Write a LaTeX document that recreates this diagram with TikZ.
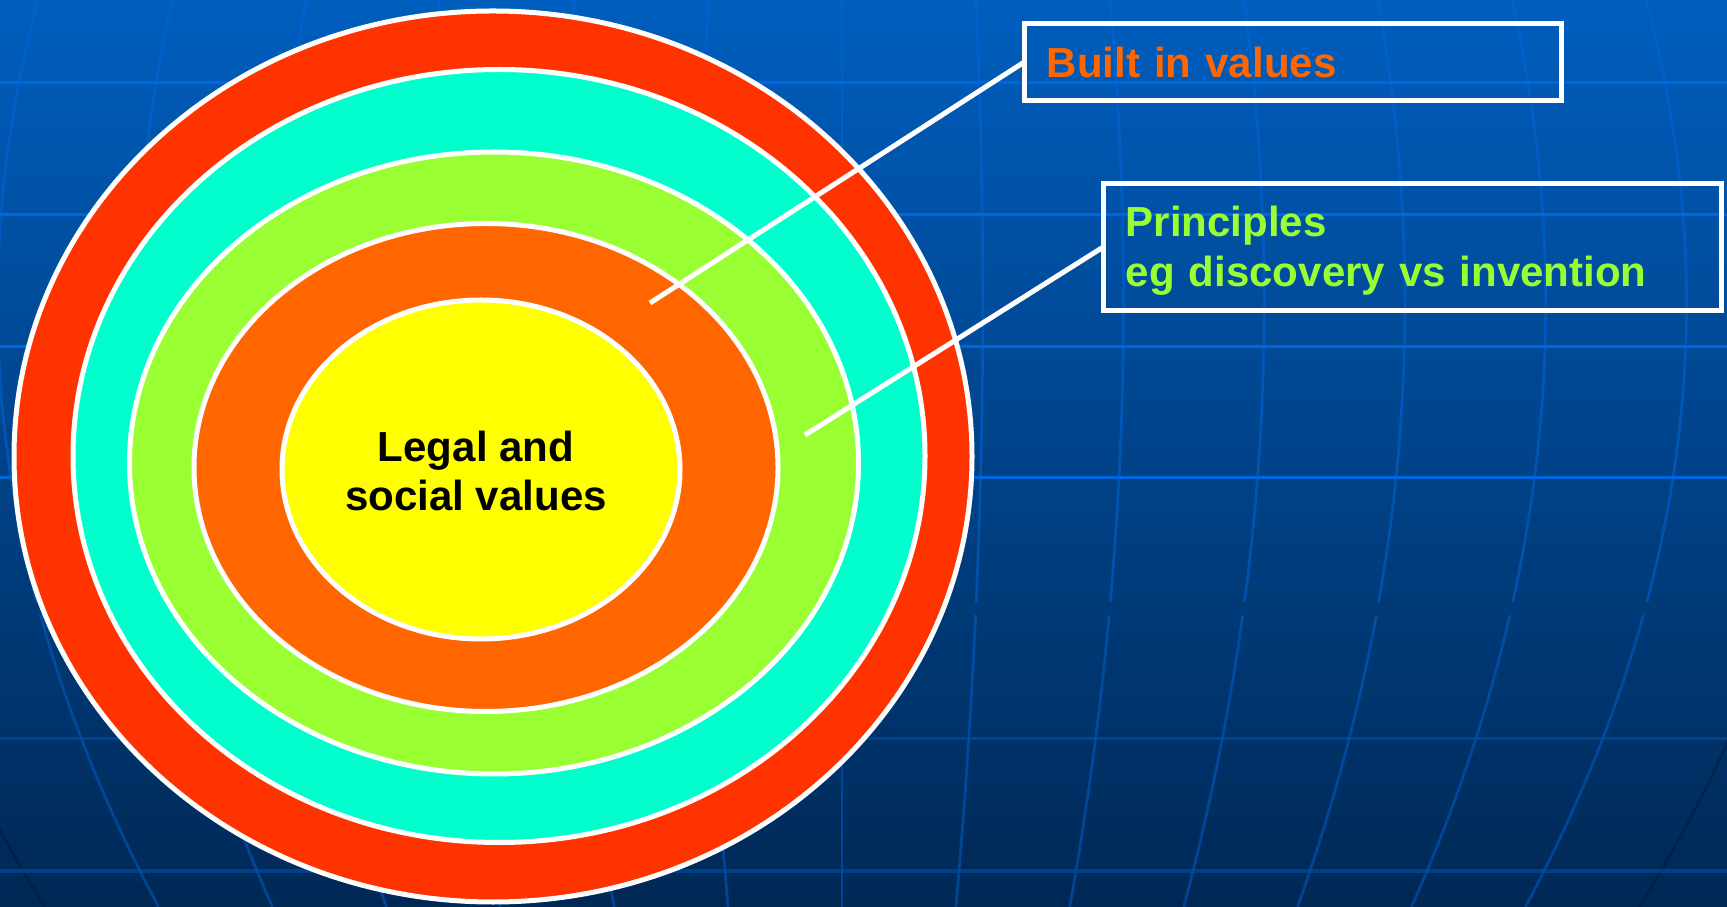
\documentclass[tikz,border=0pt]{standalone}
\usepackage{fontspec}
\setmainfont{Liberation Sans}
\usetikzlibrary{calc}
\definecolor{bgtop}{RGB}{0,94,190}
\definecolor{bgbot}{RGB}{0,40,85}
\definecolor{ringred}{RGB}{255,51,0}
\definecolor{ringcyan}{RGB}{0,255,204}
\definecolor{ringgreen}{RGB}{153,255,51}
\definecolor{ringorange}{RGB}{255,102,0}
\definecolor{ringyellow}{RGB}{255,255,0}
\definecolor{gridhi}{RGB}{0,102,221}
\definecolor{gridlo}{RGB}{0,80,168}
\definecolor{griddark}{RGB}{0,28,60}
\begin{document}
\begin{tikzpicture}[x=0.01cm, y=-0.01cm,
  ring/.style={draw=white, line width=0.05cm},
  callout/.style={draw=white, line width=0.05cm, rectangle, inner xsep=0.225cm, inner ysep=0pt, outer sep=0pt, align=left, font=\fontsize{11.95pt}{14.23pt}\selectfont\bfseries},
  leader/.style={draw=white, line width=0.05cm},
  hline/.style={line width=0.03cm},
  vline/.style={line width=0.028cm}]
\useasboundingbox (0,0) rectangle (1727,907);
\begin{scope}
\clip (0,0) rectangle (1727,907);
\shade[top color=bgtop, bottom color=bgbot] (0,0) rectangle (1727,907);
% meridians
\foreach \k in {0,...,12} {
  \pgfmathsetmacro\dd{134*\k-804}
  \draw[vline, color=gridhi, opacity=0.5] plot[domain=0:0.664, samples=30, variable=\t] ({842+(\dd)*(1+0.3017*\t-0.4517*\t*\t)}, {907*\t});
  \draw[vline, color=gridhi, opacity=0.45] plot[domain=0.678:1, samples=20, variable=\t] ({842+(\dd)*(1+0.3017*\t-0.4517*\t*\t)}, {907*\t});
}
\foreach \k in {-1,13} {
  \pgfmathsetmacro\dd{134*\k-804}
  \draw[vline, color=griddark, opacity=0.6] plot[domain=0.678:1, samples=20, variable=\t] ({842+(\dd)*(1+0.3017*\t-0.4517*\t*\t)}, {907*\t});
}
% parallels
\foreach \yy in {83,215,347,478} \draw[hline, color=gridhi] (0,\yy) -- (1727,\yy);
\foreach \yy in {739,871} \draw[hline, color=gridlo, opacity=0.6] (0,\yy) -- (1727,\yy);
\end{scope}
% rings
\draw[ring, fill=ringred] (493,456.5) ellipse [x radius=479, y radius=445.5];
\draw[ring, fill=ringcyan] (499,456) ellipse [x radius=426, y radius=386.5];
\draw[ring, fill=ringgreen] (494,463) ellipse [x radius=364.5, y radius=311];
\draw[ring, fill=ringorange] (486,467.5) ellipse [x radius=292, y radius=244];
\draw[ring, fill=ringyellow] (481,469.5) ellipse [x radius=199, y radius=169.5];
\node[align=center, text=black, font=\fontsize{11.95pt}{13.94pt}\selectfont\bfseries] (legal) at (476,471) {Legal and\\social values};
% callouts
\node[callout, text=ringorange, minimum width=5.37cm, minimum height=0.77cm, text width=4.92cm] (b1) at (1293,62) {Built in values};
\node[callout, text=ringgreen, minimum width=6.18cm, minimum height=1.27cm, text width=5.73cm, text depth=0.507cm] (b2) at (1412.5,247) {Principles\\eg discovery vs invention};
\coordinate (p1) at (650,303);
\coordinate (p2) at (805,435);
\draw[leader] (p1) -- (b1.west);
\draw[leader] (p2) -- (b2.west);
\end{tikzpicture}
\end{document}
